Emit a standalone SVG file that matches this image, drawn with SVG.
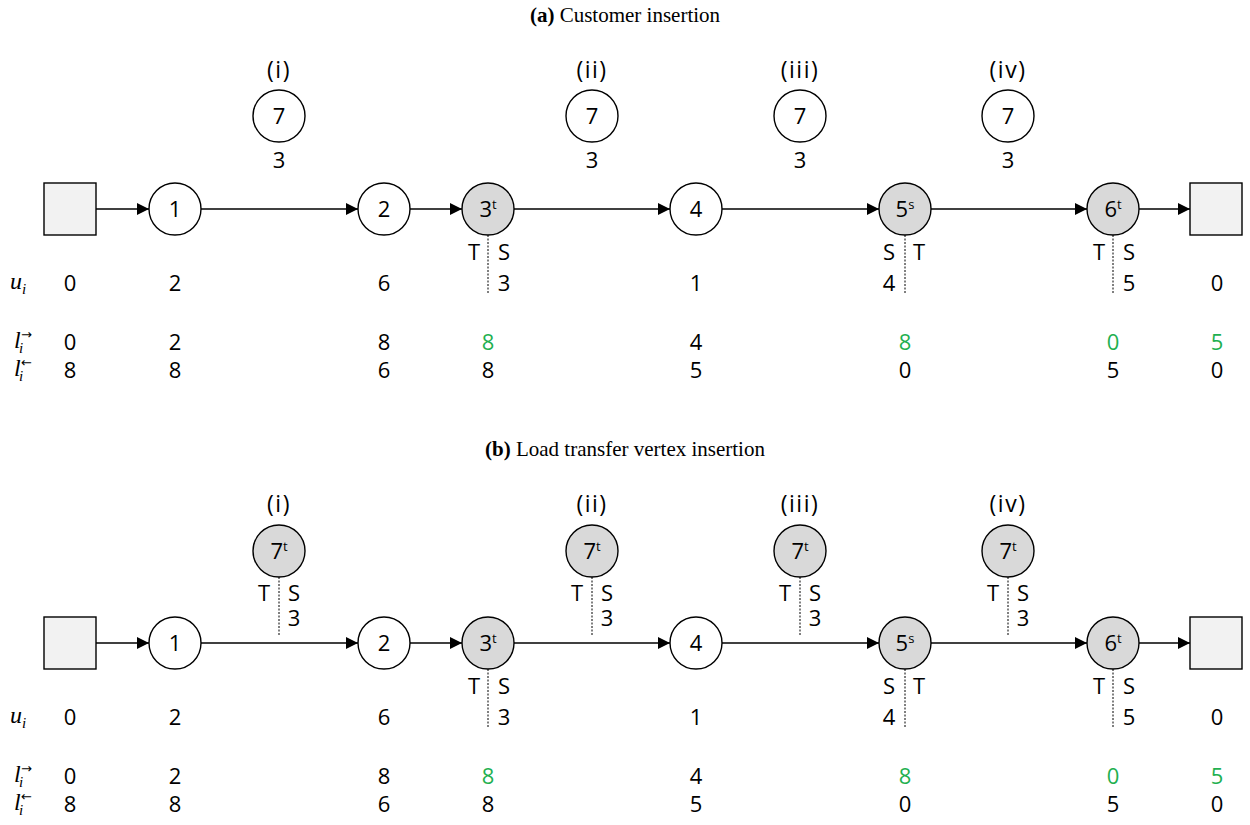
<svg xmlns="http://www.w3.org/2000/svg" width="1250" height="825" viewBox="0 0 1250 825">
  <style>
    .t { font-family: "Open Sans", "DejaVu Sans", sans-serif; font-size: 22px; fill: #000; text-anchor: middle; }
    .pos { font-size: 23px; letter-spacing: 1.5px; }
    .g { fill: #1fb050; }
    .sup { font-size: 13px; }
    .cap { font-family: "Liberation Serif", "DejaVu Serif", serif; font-size: 21px; fill: #000; text-anchor: middle; }
    .math { font-family: "Liberation Serif", "DejaVu Serif", serif; font-style: italic; font-size: 24px; fill: #000; }
    .sub { font-size: 15px; }
    .arr { font-family: "DejaVu Sans", sans-serif; font-style: normal; font-size: 13px; }
    .node { fill: #fff; stroke: #000; stroke-width: 1.4; }
    .gray { fill: #d9d9d9; stroke: #000; stroke-width: 1.4; }
    .depot { fill: #f2f2f2; stroke: #000; stroke-width: 1.4; }
    .edge { stroke: #000; stroke-width: 1.5; fill: none; marker-end: url(#ah); }
    .split { stroke: #000; stroke-width: 1; stroke-dasharray: 2 1.5; }
  </style>
  <defs>
    <marker id="ah" viewBox="0 0 12 12" refX="12" refY="6" markerWidth="13" markerHeight="12" markerUnits="userSpaceOnUse" orient="auto">
      <path d="M0,0 L12,6 L0,12 z" fill="#000"/>
    </marker>
  </defs>

  <!-- ================= Panel (a) ================= -->
  <g id="panel-a">
    <text id="caption-a" class="cap" x="625" y="22"><tspan font-weight="bold">(a)</tspan> Customer insertion</text>

    <!-- candidate insertion positions -->
    <g id="a-ins-i">
      <text class="t pos" x="279" y="78">(i)</text>
      <circle class="node" cx="279" cy="116" r="26"/>
      <text class="t" x="279" y="124">7</text>
      <text class="t" x="279" y="167.5">3</text>
    </g>
    <g id="a-ins-ii">
      <text class="t pos" x="592" y="78">(ii)</text>
      <circle class="node" cx="592" cy="116" r="26"/>
      <text class="t" x="592" y="124">7</text>
      <text class="t" x="592" y="167.5">3</text>
    </g>
    <g id="a-ins-iii">
      <text class="t pos" x="800" y="78">(iii)</text>
      <circle class="node" cx="800" cy="116" r="26"/>
      <text class="t" x="800" y="124">7</text>
      <text class="t" x="800" y="167.5">3</text>
    </g>
    <g id="a-ins-iv">
      <text class="t pos" x="1008" y="78">(iv)</text>
      <circle class="node" cx="1008" cy="116" r="26"/>
      <text class="t" x="1008" y="124">7</text>
      <text class="t" x="1008" y="167.5">3</text>
    </g>

    <!-- route -->
    <g id="a-edges">
      <line class="edge" x1="96" y1="209" x2="149" y2="209"/>
      <line class="edge" x1="201" y1="209" x2="358" y2="209"/>
      <line class="edge" x1="410" y1="209" x2="462" y2="209"/>
      <line class="edge" x1="514" y1="209" x2="670" y2="209"/>
      <line class="edge" x1="722" y1="209" x2="879" y2="209"/>
      <line class="edge" x1="931" y1="209" x2="1087" y2="209"/>
      <line class="edge" x1="1139" y1="209" x2="1190" y2="209"/>
    </g>

    <g id="a-depot-start"><rect class="depot" x="44" y="183" width="52" height="52"/></g>
    <g id="a-n1"><circle class="node" cx="175" cy="209" r="26"/><text class="t" x="175" y="217">1</text></g>
    <g id="a-n2"><circle class="node" cx="384" cy="209" r="26"/><text class="t" x="384" y="217">2</text></g>
    <g id="a-n3">
      <circle class="gray" cx="488" cy="209" r="26"/>
      <text class="t" x="488" y="217">3<tspan class="sup" dy="-8">t</tspan></text>
      <line class="split" x1="488" y1="235" x2="488" y2="294"/>
      <text class="t" x="474" y="260">T</text>
      <text class="t" x="504" y="260">S</text>
      <text class="t" x="504" y="291">3</text>
    </g>
    <g id="a-n4"><circle class="node" cx="696" cy="209" r="26"/><text class="t" x="696" y="217">4</text></g>
    <g id="a-n5">
      <circle class="gray" cx="905" cy="209" r="26"/>
      <text class="t" x="905" y="217">5<tspan class="sup" dy="-8">s</tspan></text>
      <line class="split" x1="905" y1="235" x2="905" y2="294"/>
      <text class="t" x="889" y="260">S</text>
      <text class="t" x="919" y="260">T</text>
      <text class="t" x="889" y="291">4</text>
    </g>
    <g id="a-n6">
      <circle class="gray" cx="1113" cy="209" r="26"/>
      <text class="t" x="1113" y="217">6<tspan class="sup" dy="-8">t</tspan></text>
      <line class="split" x1="1113" y1="235" x2="1113" y2="294"/>
      <text class="t" x="1099" y="260">T</text>
      <text class="t" x="1129" y="260">S</text>
      <text class="t" x="1129" y="291">5</text>
    </g>
    <g id="a-depot-end"><rect class="depot" x="1190" y="183" width="52" height="52"/></g>

    <!-- resource rows -->
    <g id="a-rows">
      <text class="math" x="10" y="289">u<tspan class="sub" x="22" y="294">i</tspan></text>
      <text class="math" x="14" y="348">l<tspan class="sub" x="19" y="353">i</tspan><tspan class="arr" x="21" y="339">→</tspan></text>
      <text class="math" x="14" y="376">l<tspan class="sub" x="19" y="381">i</tspan><tspan class="arr" x="21" y="367">←</tspan></text>

      <text class="t" x="70" y="291">0</text>
      <text class="t" x="175" y="291">2</text>
      <text class="t" x="384" y="291">6</text>
      <text class="t" x="696" y="291">1</text>
      <text class="t" x="1217" y="291">0</text>

      <text class="t" x="70" y="349.5">0</text>
      <text class="t" x="175" y="349.5">2</text>
      <text class="t" x="384" y="349.5">8</text>
      <text class="t g" x="488" y="349.5">8</text>
      <text class="t" x="696" y="349.5">4</text>
      <text class="t g" x="905" y="349.5">8</text>
      <text class="t g" x="1113" y="349.5">0</text>
      <text class="t g" x="1217" y="349.5">5</text>

      <text class="t" x="70" y="378">8</text>
      <text class="t" x="175" y="378">8</text>
      <text class="t" x="384" y="378">6</text>
      <text class="t" x="488" y="378">8</text>
      <text class="t" x="696" y="378">5</text>
      <text class="t" x="905" y="378">0</text>
      <text class="t" x="1113" y="378">5</text>
      <text class="t" x="1217" y="378">0</text>
    </g>
  </g>

  <!-- ================= Panel (b) ================= -->
  <g id="panel-b" transform="translate(0,434)">
    <text id="caption-b" class="cap" x="625" y="22"><tspan font-weight="bold">(b)</tspan> Load transfer vertex insertion</text>

    <g id="b-ins-i">
      <text class="t pos" x="279" y="78">(i)</text>
      <circle class="gray" cx="279" cy="117" r="26"/>
      <text class="t" x="279" y="125">7<tspan class="sup" dy="-8">t</tspan></text>
      <line class="split" x1="279" y1="143" x2="279" y2="201"/>
      <text class="t" x="264" y="167">T</text>
      <text class="t" x="294" y="167">S</text>
      <text class="t" x="294" y="192">3</text>
    </g>
    <g id="b-ins-ii">
      <text class="t pos" x="592" y="78">(ii)</text>
      <circle class="gray" cx="592" cy="117" r="26"/>
      <text class="t" x="592" y="125">7<tspan class="sup" dy="-8">t</tspan></text>
      <line class="split" x1="592" y1="143" x2="592" y2="201"/>
      <text class="t" x="577" y="167">T</text>
      <text class="t" x="607" y="167">S</text>
      <text class="t" x="607" y="192">3</text>
    </g>
    <g id="b-ins-iii">
      <text class="t pos" x="800" y="78">(iii)</text>
      <circle class="gray" cx="800" cy="117" r="26"/>
      <text class="t" x="800" y="125">7<tspan class="sup" dy="-8">t</tspan></text>
      <line class="split" x1="800" y1="143" x2="800" y2="201"/>
      <text class="t" x="785" y="167">T</text>
      <text class="t" x="815" y="167">S</text>
      <text class="t" x="815" y="192">3</text>
    </g>
    <g id="b-ins-iv">
      <text class="t pos" x="1008" y="78">(iv)</text>
      <circle class="gray" cx="1008" cy="117" r="26"/>
      <text class="t" x="1008" y="125">7<tspan class="sup" dy="-8">t</tspan></text>
      <line class="split" x1="1008" y1="143" x2="1008" y2="201"/>
      <text class="t" x="993" y="167">T</text>
      <text class="t" x="1023" y="167">S</text>
      <text class="t" x="1023" y="192">3</text>
    </g>

    <g id="b-edges">
      <line class="edge" x1="96" y1="209" x2="149" y2="209"/>
      <line class="edge" x1="201" y1="209" x2="358" y2="209"/>
      <line class="edge" x1="410" y1="209" x2="462" y2="209"/>
      <line class="edge" x1="514" y1="209" x2="670" y2="209"/>
      <line class="edge" x1="722" y1="209" x2="879" y2="209"/>
      <line class="edge" x1="931" y1="209" x2="1087" y2="209"/>
      <line class="edge" x1="1139" y1="209" x2="1190" y2="209"/>
    </g>

    <g id="b-depot-start"><rect class="depot" x="44" y="183" width="52" height="52"/></g>
    <g id="b-n1"><circle class="node" cx="175" cy="209" r="26"/><text class="t" x="175" y="217">1</text></g>
    <g id="b-n2"><circle class="node" cx="384" cy="209" r="26"/><text class="t" x="384" y="217">2</text></g>
    <g id="b-n3">
      <circle class="gray" cx="488" cy="209" r="26"/>
      <text class="t" x="488" y="217">3<tspan class="sup" dy="-8">t</tspan></text>
      <line class="split" x1="488" y1="235" x2="488" y2="294"/>
      <text class="t" x="474" y="260">T</text>
      <text class="t" x="504" y="260">S</text>
      <text class="t" x="504" y="291">3</text>
    </g>
    <g id="b-n4"><circle class="node" cx="696" cy="209" r="26"/><text class="t" x="696" y="217">4</text></g>
    <g id="b-n5">
      <circle class="gray" cx="905" cy="209" r="26"/>
      <text class="t" x="905" y="217">5<tspan class="sup" dy="-8">s</tspan></text>
      <line class="split" x1="905" y1="235" x2="905" y2="294"/>
      <text class="t" x="889" y="260">S</text>
      <text class="t" x="919" y="260">T</text>
      <text class="t" x="889" y="291">4</text>
    </g>
    <g id="b-n6">
      <circle class="gray" cx="1113" cy="209" r="26"/>
      <text class="t" x="1113" y="217">6<tspan class="sup" dy="-8">t</tspan></text>
      <line class="split" x1="1113" y1="235" x2="1113" y2="294"/>
      <text class="t" x="1099" y="260">T</text>
      <text class="t" x="1129" y="260">S</text>
      <text class="t" x="1129" y="291">5</text>
    </g>
    <g id="b-depot-end"><rect class="depot" x="1190" y="183" width="52" height="52"/></g>

    <g id="b-rows">
      <text class="math" x="10" y="289">u<tspan class="sub" x="22" y="294">i</tspan></text>
      <text class="math" x="14" y="348">l<tspan class="sub" x="19" y="353">i</tspan><tspan class="arr" x="21" y="339">→</tspan></text>
      <text class="math" x="14" y="376">l<tspan class="sub" x="19" y="381">i</tspan><tspan class="arr" x="21" y="367">←</tspan></text>

      <text class="t" x="70" y="291">0</text>
      <text class="t" x="175" y="291">2</text>
      <text class="t" x="384" y="291">6</text>
      <text class="t" x="696" y="291">1</text>
      <text class="t" x="1217" y="291">0</text>

      <text class="t" x="70" y="349.5">0</text>
      <text class="t" x="175" y="349.5">2</text>
      <text class="t" x="384" y="349.5">8</text>
      <text class="t g" x="488" y="349.5">8</text>
      <text class="t" x="696" y="349.5">4</text>
      <text class="t g" x="905" y="349.5">8</text>
      <text class="t g" x="1113" y="349.5">0</text>
      <text class="t g" x="1217" y="349.5">5</text>

      <text class="t" x="70" y="378">8</text>
      <text class="t" x="175" y="378">8</text>
      <text class="t" x="384" y="378">6</text>
      <text class="t" x="488" y="378">8</text>
      <text class="t" x="696" y="378">5</text>
      <text class="t" x="905" y="378">0</text>
      <text class="t" x="1113" y="378">5</text>
      <text class="t" x="1217" y="378">0</text>
    </g>
  </g>
</svg>
